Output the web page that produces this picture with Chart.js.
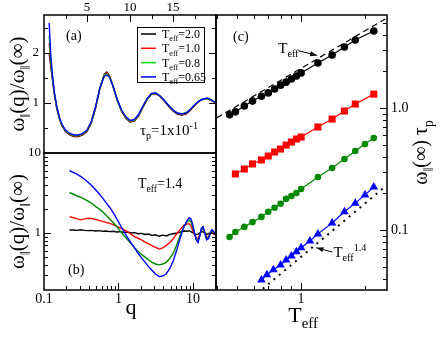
<!DOCTYPE html>
<html>
<head>
<meta charset="utf-8">
<script src="https://cdn.jsdelivr.net/npm/chart.js@4.4.0/dist/chart.umd.min.js"></script>
<style>
body { margin: 0; background: #fff; }
#wrap { position: relative; width: 443px; height: 342px; }
canvas { position: absolute; left: 0; top: 0; }
</style>
</head>
<body>
<div id="wrap">
<canvas id="pa" width="443" height="342"></canvas>
<canvas id="pb" width="443" height="342"></canvas>
<canvas id="pc" width="443" height="342"></canvas>
</div>
<script>
// ---- panel (a): tau_p = 0.1, linear q
const qA = [0.6,0.8,1.0,1.2,1.5,1.8,2.1,2.5,3.0,3.5,4.0,4.5,5.0,5.5,6.0,6.5,7.0,7.3,7.6,8.0,8.5,9.0,9.5,10.0,10.5,11.0,11.5,12.0,12.5,13.0,13.5,14.0,14.5,15.0,15.5,16.0,16.5,17.0,17.5,18.0,18.5,19.0,19.5,20.0];
const a_T20  = [2.0,1.72,1.45,1.18,0.88,0.68,0.54,0.43,0.36,0.33,0.33,0.36,0.43,0.6,0.9,1.3,1.57,1.62,1.55,1.35,1.06,0.84,0.70,0.62,0.64,0.74,0.91,1.07,1.18,1.19,1.13,1.04,0.93,0.84,0.78,0.76,0.78,0.85,0.95,1.03,1.08,1.09,1.05,0.98];
const a_T10  = [2.2,1.78,1.47,1.19,0.89,0.69,0.55,0.44,0.37,0.34,0.34,0.37,0.44,0.61,0.91,1.3,1.56,1.6,1.54,1.35,1.07,0.85,0.71,0.63,0.65,0.75,0.92,1.08,1.18,1.19,1.13,1.04,0.94,0.85,0.79,0.77,0.79,0.86,0.95,1.03,1.08,1.09,1.05,0.99];
const a_T08  = [2.35,1.84,1.49,1.2,0.9,0.7,0.56,0.45,0.38,0.35,0.35,0.38,0.45,0.62,0.92,1.3,1.55,1.58,1.53,1.35,1.07,0.86,0.72,0.64,0.66,0.76,0.93,1.08,1.18,1.2,1.14,1.05,0.95,0.86,0.8,0.78,0.8,0.87,0.96,1.04,1.08,1.09,1.06,1.0];
const a_T065 = [2.6,1.92,1.52,1.22,0.92,0.71,0.57,0.46,0.39,0.36,0.36,0.39,0.46,0.63,0.93,1.3,1.53,1.56,1.52,1.35,1.08,0.87,0.73,0.65,0.67,0.77,0.94,1.09,1.19,1.2,1.14,1.05,0.95,0.86,0.8,0.78,0.8,0.87,0.96,1.04,1.08,1.1,1.06,1.0];
const legendA = ['2.0','1.0','0.8','0.65'];

// ---- panel (b): T_eff = 1.4, log q
const qB = [0.22,0.25,0.28,0.31,0.35,0.39,0.44,0.49,0.55,0.61,0.68,0.76,0.85,0.95,1.06,1.18,1.32,1.47,1.64,1.83,2.04,2.28,2.54,2.83,3.16,3.52,3.93,4.38,4.89,5.45,6.08,6.78,7.56,8.43,8.9,9.4,9.9,10.5,11.1,11.7,12.3,13.0,13.7,14.5,15.3,16.2,17.1,18.0,19.0,20.1];
const b_black = [1.09,1.09,1.08,1.1,1.08,1.07,1.08,1.06,1.07,1.05,1.06,1.04,1.05,1.03,1.04,1.02,1.03,1.0,1.01,0.98,0.99,0.96,0.97,0.93,0.95,0.91,0.94,0.92,0.96,0.98,1.0,1.03,1.06,1.05,1.07,1.04,1.01,0.98,0.96,0.97,1.0,1.04,1.03,0.99,0.96,0.98,1.0,1.02,1.0,0.98];
const b_red   = [1.6,1.55,1.5,1.46,1.5,1.53,1.52,1.48,1.44,1.4,1.36,1.32,1.27,1.21,1.15,1.1,1.04,0.97,0.9,0.86,0.82,0.77,0.73,0.69,0.66,0.63,0.65,0.7,0.76,0.85,0.98,1.12,1.25,1.3,1.3,1.22,1.08,0.95,0.86,0.85,0.95,1.1,1.12,0.98,0.88,0.9,0.98,1.02,0.97,0.94];
const b_green = [3.2,3.05,2.9,2.8,2.65,2.5,2.35,2.15,2.0,1.85,1.68,1.5,1.35,1.2,1.05,0.93,0.83,0.74,0.66,0.59,0.54,0.5,0.46,0.43,0.41,0.4,0.41,0.43,0.48,0.56,0.72,0.95,1.2,1.4,1.45,1.38,1.2,0.98,0.84,0.8,0.92,1.12,1.15,0.98,0.84,0.87,1.0,1.08,1.02,0.96];
const b_blue  = [6.0,5.7,5.4,5.1,4.7,4.3,3.9,3.5,3.1,2.75,2.4,2.1,1.8,1.5,1.25,1.05,0.88,0.76,0.65,0.56,0.49,0.43,0.38,0.34,0.305,0.285,0.29,0.31,0.36,0.45,0.62,0.88,1.2,1.45,1.55,1.5,1.3,1.0,0.82,0.76,0.9,1.15,1.2,1.0,0.82,0.85,1.0,1.1,1.05,0.95];

// ---- panel (c): omega(inf)*tau_p vs T_eff
const tBlack = [0.46,0.49,0.54,0.59,0.65,0.70,0.75,0.80,0.85,0.90,0.95,1.0,1.2,1.4,1.6,1.8,2.2];
const wBlack = [0.88,0.93,1.04,1.14,1.25,1.33,1.43,1.54,1.63,1.73,1.83,1.94,2.34,2.72,3.16,3.61,4.28];
const tRed = [0.49,0.54,0.59,0.65,0.70,0.75,0.80,0.85,0.90,0.95,1.0,1.2,1.4,1.6,1.8,2.2];
const wRed = [0.288,0.316,0.348,0.375,0.404,0.436,0.461,0.497,0.526,0.557,0.578,0.699,0.812,0.945,1.078,1.30];
const tGreen = [0.46,0.49,0.54,0.59,0.65,0.70,0.75,0.80,0.85,0.90,0.95,1.0,1.2,1.4,1.6,1.8,2.0,2.2];
const wGreen = [0.0877,0.0963,0.106,0.116,0.128,0.141,0.152,0.164,0.180,0.190,0.201,0.217,0.272,0.322,0.382,0.444,0.507,0.568];
const tBlue = [0.65,0.69,0.74,0.80,0.85,0.90,0.95,1.0,1.1,1.2,1.4,1.6,1.8,2.0,2.2];
const wBlue = [0.0389,0.0430,0.0471,0.0516,0.0568,0.0612,0.0664,0.0716,0.0813,0.0929,0.114,0.141,0.166,0.194,0.225];
// guide lines (end points)
const linearGuide = [[0.40,0.83],[2.49,5.37]];
const powerGuide  = [[0.66,0.033],[2.44,0.22]];

const SERIF = '"Liberation Serif", "DejaVu Serif", serif';
Chart.defaults.font.family = SERIF;
Chart.defaults.color = '#000';
Chart.defaults.animation = false;
Chart.defaults.responsive = false;
Chart.defaults.plugins.legend.display = false;
Chart.defaults.plugins.tooltip.enabled = false;

const pts = (xs, ys) => xs.map((x, i) => ({x: x, y: ys[i]}));
const fix = n => s => { if (s.isHorizontal()) s.height = n; else s.width = n; };
const only = vals => s => { s.ticks = vals.map(v => ({value: v})); };
const noGrid = {display: false, drawTicks: false};
const logMinor = (lo, hi) => {
  const out = [];
  for (let d = Math.floor(Math.log10(lo)); d <= Math.ceil(Math.log10(hi)); d++)
    for (let k = 2; k <= 9; k++) { const v = k * Math.pow(10, d); if (v > lo && v < hi) out.push(v); }
  return out;
};

// text with sub/superscripts: parts = [[text, 0|1 sub|2 sup], ...]
function rich(ctx, parts, x, y, size, align, rot) {
  const seg = parts.map(([t, k]) => {
    const s = k ? size * 0.68 : size;
    ctx.font = s + 'px ' + SERIF;
    return {t: t, k: k, s: s, w: ctx.measureText(t).width};
  });
  const total = seg.reduce((a, g) => a + g.w, 0);
  ctx.save();
  ctx.translate(x, y);
  if (rot) ctx.rotate(rot);
  ctx.fillStyle = '#000';
  ctx.textAlign = 'left';
  ctx.textBaseline = 'alphabetic';
  let cx = align === 'center' ? -total / 2 : align === 'right' ? -total : 0;
  seg.forEach(g => {
    ctx.font = g.s + 'px ' + SERIF;
    const dy = g.k === 1 ? size * 0.28 : g.k === 2 ? -size * 0.42 : 0;
    ctx.fillText(g.t, cx, dy);
    cx += g.w;
  });
  ctx.restore();
}

function arrow(ctx, x1, y1, x2, y2) {
  ctx.save();
  ctx.strokeStyle = '#000'; ctx.fillStyle = '#000'; ctx.lineWidth = 1;
  ctx.beginPath(); ctx.moveTo(x1, y1); ctx.lineTo(x2, y2); ctx.stroke();
  const a = Math.atan2(y2 - y1, x2 - x1), L = 7, W = 2.5;
  ctx.beginPath(); ctx.moveTo(x2, y2);
  ctx.lineTo(x2 - L * Math.cos(a) + W * Math.sin(a), y2 - L * Math.sin(a) - W * Math.cos(a));
  ctx.lineTo(x2 - L * Math.cos(a) - W * Math.sin(a), y2 - L * Math.sin(a) + W * Math.cos(a));
  ctx.closePath(); ctx.fill();
  ctx.restore();
}

// frame + inward ticks; spec rows: [scaleId, values, length, sides]
function frame(chart, spec) {
  const ctx = chart.ctx, a = chart.chartArea;
  ctx.save();
  ctx.strokeStyle = '#000';
  ctx.lineWidth = 1.5;
  ctx.strokeRect(a.left, a.top, a.right - a.left, a.bottom - a.top);
  ctx.lineWidth = 1;
  ctx.beginPath();
  spec.forEach(([id, vals, len, sides]) => {
    const s = chart.scales[id];
    vals.forEach(v => {
      const p = Math.round(s.getPixelForValue(v)) + 0.5;
      if (s.isHorizontal()) {
        if (p < a.left + 1 || p > a.right - 1) return;
        if (sides.includes('t')) { ctx.moveTo(p, a.top); ctx.lineTo(p, a.top + len); }
        if (sides.includes('b')) { ctx.moveTo(p, a.bottom); ctx.lineTo(p, a.bottom - len); }
      } else {
        if (p < a.top + 1 || p > a.bottom - 1) return;
        if (sides.includes('l')) { ctx.moveTo(a.left, p); ctx.lineTo(a.left + len, p); }
        if (sides.includes('r')) { ctx.moveTo(a.right, p); ctx.lineTo(a.right - len, p); }
      }
    });
  });
  ctx.stroke();
  ctx.restore();
}

const yTitle = [['ω', 0], ['‖', 1], ['(q)/ω', 0], ['‖', 1], ['(∞)', 0]];
const lineDs = (label, xs, ys, color, w) => ({
  label: label, data: pts(xs, ys), borderColor: color, backgroundColor: color,
  borderWidth: w, pointRadius: 0, tension: 0
});

// ---------------- panel (a)
const colorsA = ['#000000', '#ff0000', '#00dd00', '#0000ff'];
new Chart(document.getElementById('pa'), {
  type: 'line',
  data: {
    datasets: [
      lineDs('0.65', qA, a_T065, colorsA[3], 1.4),
      lineDs('0.8', qA, a_T08, colorsA[2], 1.4),
      lineDs('1.0', qA, a_T10, colorsA[1], 1.4),
      lineDs('2.0', qA, a_T20, colorsA[0], 1.4)
    ]
  },
  options: {
    layout: {padding: {left: 0, top: 0, right: 227, bottom: 189}},
    scales: {
      x: {type: 'linear', position: 'top', min: 0, max: 20, afterFit: fix(15), afterBuildTicks: only([5, 10, 15]),
          ticks: {font: {size: 13}, padding: 0, maxRotation: 0, autoSkip: false}, grid: noGrid, border: {display: false}},
      y: {type: 'linear', min: 0, max: 2.76, afterFit: fix(44), afterBuildTicks: only([1, 2]),
          ticks: {font: {size: 13}, padding: 5, autoSkip: false}, grid: noGrid, border: {display: false}}
    }
  },
  plugins: [{
    id: 'decoA',
    afterDraw(chart) {
      const ctx = chart.ctx, a = chart.chartArea;
      frame(chart, [
        ['x', [5, 10, 15], 7, 't'], ['x', [2.5, 7.5, 12.5, 17.5], 4, 't'],
        ['y', [1, 2], 7, 'lr'], ['y', [0.5, 1.5, 2.5], 4, 'lr']
      ]);
      rich(ctx, yTitle, 24, (a.top + a.bottom) / 2, 21, 'center', -Math.PI / 2);
      rich(ctx, [['(a)', 0]], a.left + 22, a.top + 25, 14, 'left');
      rich(ctx, [['τ', 0], ['p', 1], ['=1x10', 0], ['-1', 2]], 140, 135, 15, 'left');
      // legend
      const lx = 137, ly = 27, lw = 67, lh = 55;
      ctx.save();
      ctx.strokeStyle = '#000'; ctx.lineWidth = 1;
      ctx.strokeRect(lx + 0.5, ly + 0.5, lw, lh);
      legendA.forEach((t, i) => {
        const yy = ly + 7 + i * 14.3;
        ctx.strokeStyle = colorsA[i]; ctx.lineWidth = 1.5;
        ctx.beginPath(); ctx.moveTo(lx + 4, yy); ctx.lineTo(lx + 19, yy); ctx.stroke();
        rich(ctx, [['T', 0], ['eff', 1], ['=' + t, 0]], lx + 25, yy + 4, 12, 'left');
      });
      ctx.restore();
    }
  }]
});

// ---------------- panel (b)
new Chart(document.getElementById('pb'), {
  type: 'line',
  data: {
    datasets: [
      lineDs('0.65', qB, b_blue, '#0000ff', 1.4),
      lineDs('0.8', qB, b_green, '#008800', 1.4),
      lineDs('1.0', qB, b_red, '#ff0000', 1.4),
      lineDs('2.0', qB, b_black, '#000000', 1.4)
    ]
  },
  options: {
    layout: {padding: {left: 0, top: 153, right: 227, bottom: 0}},
    scales: {
      x: {type: 'logarithmic', min: 0.1, max: 20.4, afterFit: fix(52), afterBuildTicks: only([0.1, 1, 10]),
          ticks: {font: {size: 14}, padding: 1, maxRotation: 0, autoSkip: false, callback: v => String(v)},
          grid: noGrid, border: {display: false}},
      y: {type: 'logarithmic', min: 0.194, max: 10, afterFit: fix(44), afterBuildTicks: only([1, 10]),
          ticks: {font: {size: 13}, padding: 3, autoSkip: false, callback: v => String(v)},
          grid: noGrid, border: {display: false}}
    }
  },
  plugins: [{
    id: 'decoB',
    afterDraw(chart) {
      const ctx = chart.ctx, a = chart.chartArea;
      frame(chart, [
        ['x', [1, 10], 7, 'b'], ['x', logMinor(0.1, 20.4), 4, 'b'],
        ['y', [1], 7, 'lr'], ['y', logMinor(0.194, 10), 4, 'lr']
      ]);
      rich(ctx, yTitle, 24, (a.top + a.bottom) / 2, 21, 'center', -Math.PI / 2);
      rich(ctx, [['(b)', 0]], a.left + 24, a.bottom - 16, 14, 'left');
      rich(ctx, [['T', 0], ['eff', 1], ['=1.4', 0]], 138, 188, 14, 'left');
      rich(ctx, [['q', 0]], (a.left + a.right) / 2 + 1, 314, 22, 'center');
    }
  }]
});

// ---------------- panel (c)
const markDs = (xs, ys, color, style, r) => ({
  data: pts(xs, ys), borderColor: color, backgroundColor: color, borderWidth: 1.2,
  pointStyle: style, pointRadius: r, pointBorderWidth: 0, tension: 0
});
new Chart(document.getElementById('pc'), {
  type: 'line',
  data: {
    datasets: [
      markDs(tBlack, wBlack, '#000000', 'circle', 3.8),
      markDs(tRed, wRed, '#ff0000', 'rect', 5),
      markDs(tGreen, wGreen, '#008800', 'circle', 3.3),
      markDs(tBlue, wBlue, '#0000ff', 'triangle', 5),
      {data: linearGuide.map(p => ({x: p[0], y: p[1]})), borderColor: '#000', borderWidth: 1.2,
       borderDash: [6, 4], pointRadius: 0},
      {data: powerGuide.map(p => ({x: p[0], y: p[1]})), borderColor: '#000', borderWidth: 2,
       borderDash: [2, 5], pointRadius: 0}
    ]
  },
  options: {
    layout: {padding: {left: 216, top: 15, right: 0, bottom: 0}},
    scales: {
      x: {type: 'logarithmic', min: 0.397, max: 2.54, afterFit: fix(52), afterBuildTicks: only([1]),
          ticks: {font: {size: 14}, padding: 1, maxRotation: 0, autoSkip: false, callback: v => String(v)},
          grid: noGrid, border: {display: false}},
      y: {type: 'logarithmic', position: 'right', min: 0.0322, max: 5.79, afterFit: fix(56), afterBuildTicks: only([0.1, 1]),
          ticks: {font: {size: 14}, padding: 4, autoSkip: false, callback: v => v === 1 ? '1.0' : String(v)},
          grid: noGrid, border: {display: false}}
    }
  },
  plugins: [{
    id: 'decoC',
    afterDraw(chart) {
      const ctx = chart.ctx, a = chart.chartArea;
      const X = v => chart.scales.x.getPixelForValue(v), Y = v => chart.scales.y.getPixelForValue(v);
      frame(chart, [
        ['x', [1], 7, 'tb'], ['x', logMinor(0.397, 2.54), 4, 'tb'],
        ['y', [0.1, 1], 7, 'r'], ['y', logMinor(0.0322, 5.79), 4, 'r']
      ]);
      rich(ctx, [['(c)', 0]], a.left + 17, a.top + 26, 14, 'left');
      rich(ctx, [['T', 0], ['eff', 1]], X(0.78), Y(2.82), 15, 'left');
      arrow(ctx, X(0.97), Y(2.95), X(1.19), Y(2.7));
      rich(ctx, [['T', 0], ['eff', 1], ['1.4', 2]], X(1.42), Y(0.060), 15, 'left');
      arrow(ctx, X(1.40), Y(0.066), X(1.18), Y(0.0714));
      rich(ctx, [['T', 0], ['eff', 1]], X(1) + 2, 322, 22, 'center');
      rich(ctx, [['ω', 0], ['‖', 1], ['(∞) τ', 0], ['p', 1]], 427, (a.top + a.bottom) / 2, 20, 'center', -Math.PI / 2);
    }
  }]
});
</script>
</body>
</html>
